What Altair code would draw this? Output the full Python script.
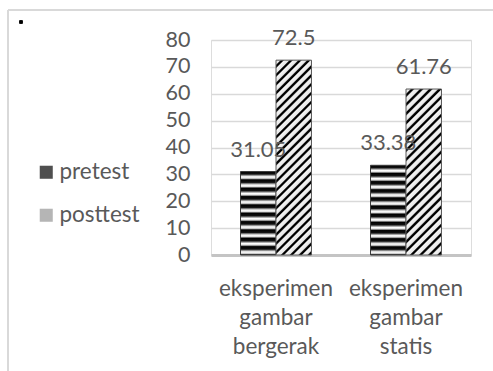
import altair as alt
import pandas as pd

categories = ["eksperimen gambar bergerak", "eksperimen gambar statis"]
series = ["pretest", "posttest"]
pretest = [31.05, 33.38]
posttest = [72.5, 61.76]
value_labels_pre = ["31.05", "33.38"]
value_labels_post = ["72.5", "61.76"]
y_ticks = [0, 10, 20, 30, 40, 50, 60, 70, 80]

rows = []
for i, c in enumerate(categories):
    rows.append({"category": c, "series": "pretest", "value": pretest[i], "label": value_labels_pre[i]})
    rows.append({"category": c, "series": "posttest", "value": posttest[i], "label": value_labels_post[i]})
df = pd.DataFrame(rows)

W, H = 260, 215
PX_PER_UNIT = H / 80.0
BAR_W = 130 * (1 - 0.454) / 2.0
FONT = "Lato"
GRAY = "#595959"


def horiz_stripes(n):
    stops = []
    pattern = [(0.0, "#000000"), (0.3, "#111111"), (0.45, "#8a8a8a"), (0.62, "#ffffff"),
               (0.8, "#e0e0e0"), (0.95, "#333333")]
    for k in range(n):
        for off, col in pattern:
            stops.append(alt.GradientStop(offset=(k + off) / n, color=col))
    stops.append(alt.GradientStop(offset=1.0, color="#000000"))
    return alt.LinearGradient(gradient="linear", stops=stops, x1=0, y1=0, x2=0, y2=1)


def diag_stripes(h_px, w_px, period_px=9.0):
    n = max(1, round((w_px + h_px) / period_px))
    r = w_px / h_px
    k = (r + 1) / (r * r + 1)
    pattern = [(0.0, "#f4f4f4"), (0.45, "#e8e8e8"), (0.55, "#555555"), (0.62, "#000000"),
               (0.82, "#000000"), (0.92, "#9a9a9a")]
    stops = []
    for j in range(n):
        for off, col in pattern:
            stops.append(alt.GradientStop(offset=(j + off) / n, color=col))
    stops.append(alt.GradientStop(offset=1.0, color="#f4f4f4"))
    return alt.LinearGradient(gradient="linear", stops=stops, x1=0, y1=0, x2=k * r, y2=k)


x_enc = alt.X("category:N", scale=alt.Scale(domain=categories, paddingInner=0.454, paddingOuter=0.227),
              axis=alt.Axis(title=None, labelAngle=0, ticks=False, domainColor="#c4c4c4", domainWidth=3,
                            labelFont=FONT, labelFontSize=22.5, labelColor=GRAY, labelPadding=22,
                            labelLineHeight=29, labelBaseline="top",
                            labelExpr="split(datum.label, ' ')"))
xo_enc = alt.XOffset("series:N", scale=alt.Scale(domain=series, paddingInner=0, paddingOuter=0))
y_enc = alt.Y("value:Q", scale=alt.Scale(domain=[0, 80], nice=False),
              axis=alt.Axis(title=None, values=y_ticks, domain=False, ticks=False, gridColor="#d9d9d9",
                            gridWidth=1.5, labelFont=FONT, labelFontSize=21.5, labelColor=GRAY,
                            labelPadding=21, labelOverlap=False))

base = alt.Chart(df)
layers = []
for i, c in enumerate(categories):
    h_pre = pretest[i] * PX_PER_UNIT
    layers.append(base.transform_filter(
        (alt.datum.category == c) & (alt.datum.series == "pretest")
    ).mark_bar(fill=horiz_stripes(max(1, round(h_pre / 8.3))), stroke="#3a3a3a", strokeWidth=1).encode(
        x=x_enc, xOffset=xo_enc, y=y_enc))
    h_post = posttest[i] * PX_PER_UNIT
    layers.append(base.transform_filter(
        (alt.datum.category == c) & (alt.datum.series == "posttest")
    ).mark_bar(fill=diag_stripes(h_post, BAR_W), stroke="#5a5a5a", strokeWidth=1).encode(
        x=x_enc, xOffset=xo_enc, y=y_enc))

legend_layer = base.mark_square(size=0, opacity=1).encode(
    color=alt.Color("series:N", scale=alt.Scale(domain=series, range=["#4f4f4f", "#b5b5b5"]),
                    legend=alt.Legend(title=None, orient="none", legendX=-176, legendY=121,
                                      symbolType="square", symbolSize=170, symbolStrokeWidth=0,
                                      labelFont=FONT, labelFontSize=22.5, labelColor=GRAY,
                                      rowPadding=20, labelOffset=2)),
    x=x_enc, y=alt.value(H))

text_layer = base.mark_text(font=FONT, fontSize=22, color=GRAY, baseline="alphabetic", dy=-15).encode(
    x=x_enc, xOffset=xo_enc, y=y_enc, text="label:N")

frame_v = base.mark_rule(color="#d9d9d9", strokeWidth=2).encode(
    x=alt.value(-203), y=alt.value(-30), y2=alt.value(H + 120))
frame_h = base.mark_rule(color="#d9d9d9", strokeWidth=2).encode(
    x=alt.value(-203), x2=alt.value(W + 30), y=alt.value(-30))
dot = base.mark_square(color="#000000", size=9, filled=True, opacity=1).encode(
    x=alt.value(-190), y=alt.value(-18))

chart = alt.layer(frame_v, frame_h, dot, *layers, text_layer, legend_layer).properties(
    width=W, height=H, padding={"left": 211, "top": 40, "right": 22, "bottom": 116},
    autosize=alt.AutoSizeParams(type="none")
).configure_view(stroke=None).configure(background="white")

chart.save("out.html", embed_options={"renderer": "svg", "actions": False})
